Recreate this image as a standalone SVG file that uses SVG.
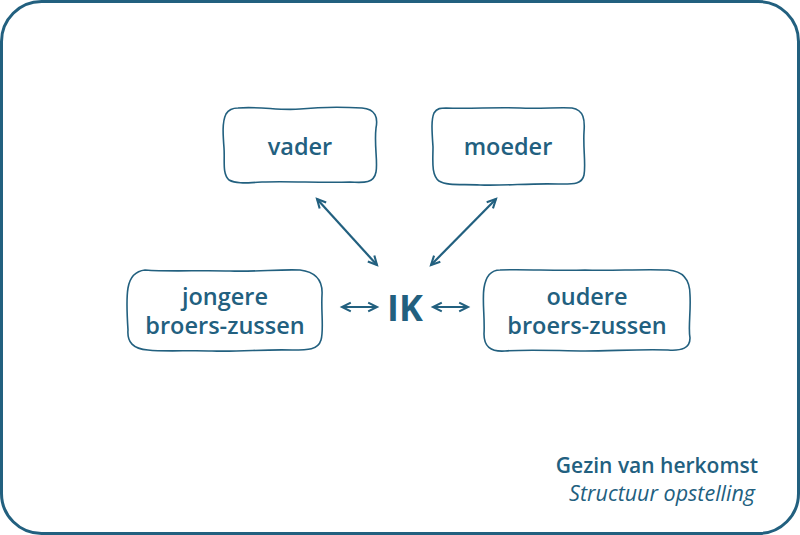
<svg xmlns="http://www.w3.org/2000/svg" width="800" height="535" viewBox="0 0 800 535">
<defs>
<style>
.frame{fill:#fff;stroke:#22607f;stroke-width:3}
.box{fill:#fff;stroke:#22607f;stroke-width:1.6;stroke-linejoin:round}
.lbl{font-family:"Open Sans","Noto Sans",sans-serif;font-weight:600;font-size:23.5px;fill:#22607f;text-anchor:middle}
.ik{font-family:"Open Sans","Noto Sans",sans-serif;font-weight:700;font-size:36px;fill:#22607f;text-anchor:middle}
.conn{stroke:#22607f;stroke-width:2.2;fill:none;marker-start:url(#ah);marker-end:url(#ah)}
.t1{font-family:"Open Sans","Noto Sans",sans-serif;font-weight:600;font-size:21px;fill:#22607f;text-anchor:end}
.t2{font-family:"Open Sans","Noto Sans",sans-serif;font-style:italic;font-size:21.5px;fill:#22607f;text-anchor:end}
</style>
<marker id="ah" viewBox="0 0 10 10" refX="9" refY="5" markerWidth="11" markerHeight="11" orient="auto-start-reverse" markerUnits="userSpaceOnUse" style="overflow:visible">
<path d="M1,1 L9,5 L1,9" fill="none" stroke="#22607f" stroke-width="1.9"/>
</marker>
</defs>
<rect class="frame" x="1.5" y="1.5" width="797" height="532" rx="40" ry="40"/>
<g id="connectors">
<line class="conn" x1="317" y1="199" x2="377" y2="265"/>
<line class="conn" x1="496" y1="199" x2="431" y2="265"/>
<line class="conn" x1="342" y1="307" x2="377" y2="307"/>
<line class="conn" x1="433" y1="307" x2="468" y2="307"/>
</g>
<g id="vader">
<path class="box" d="M238,108 C260,106 280,111 300,109 C320,107 345,107 362,108 C376,109 378,118 376,128 C374,145 378,162 376,172 C374,183 365,183 350,182 C320,183 290,181 262,182 C245,183 236,184 229,180 C222,174 225,160 224,148 C223,135 222,122 226,114 C229,109 233,108 238,108 Z"/>
<text class="lbl" x="300" y="155">vader</text>
</g>
<g id="moeder">
<path class="box" d="M446,108 C470,109 495,107 520,108 C540,109 560,107 572,108 C584,110 585,120 584,132 C583,148 586,165 584,175 C582,185 572,184 558,184 C530,183 505,186 480,185 C462,184 447,186 439,181 C431,175 433,160 433,147 C432,132 431,120 434,113 C437,108 441,108 446,108 Z"/>
<text class="lbl" x="508" y="155">moeder</text>
</g>
<g id="jongere">
<path class="box" d="M145,270 C170,272 200,270 230,271 C255,272 280,269 300,270 C316,272 323,280 322,295 C321,312 324,330 321,340 C318,350 308,350 292,350 C265,349 240,352 212,351 C190,350 165,352 148,350 C133,349 127,342 128,330 C127,315 126,300 128,288 C130,276 136,271 145,270 Z"/>
<text class="lbl" x="225" y="305">jongere</text>
<text class="lbl" x="225" y="334">broers-zussen</text>
</g>
<g id="ik">
<text class="ik" x="405" y="321">IK</text>
</g>
<g id="oudere">
<path class="box" d="M500,270 C525,269 555,271 585,270 C610,271 640,269 668,270 C684,271 690,280 690,295 C691,312 688,328 690,338 C690,348 682,351 668,350 C640,349 612,351 585,351 C560,351 530,349 505,351 C490,352 484,346 484,334 C485,318 482,300 484,288 C486,275 492,270 500,270 Z"/>
<text class="lbl" x="587" y="305">oudere</text>
<text class="lbl" x="587" y="334">broers-zussen</text>
</g>
<g id="caption">
<text class="t1" x="758" y="473">Gezin van herkomst</text>
<text class="t2" x="755" y="501">Structuur opstelling</text>
</g>
</svg>
